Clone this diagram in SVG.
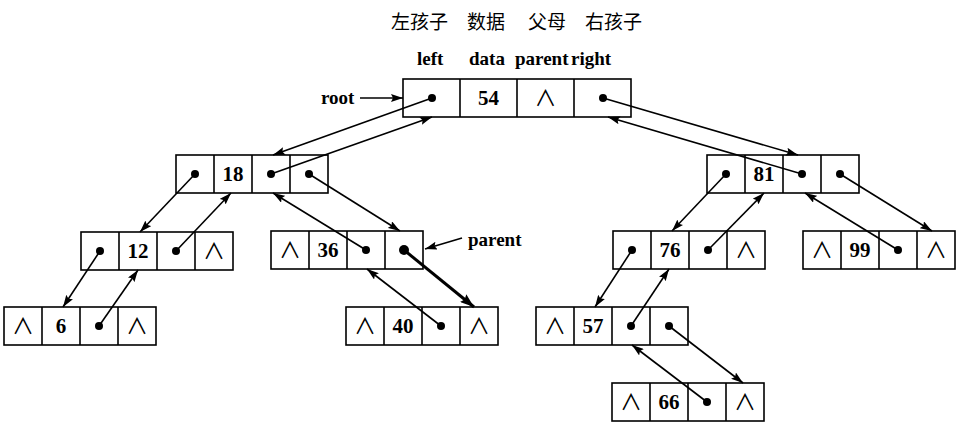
<svg xmlns="http://www.w3.org/2000/svg" width="960" height="427" viewBox="0 0 960 427">
<defs>
<style>
.box{fill:#fff;stroke:#000;stroke-width:1.6}
.div{stroke:#000;stroke-width:1.6}
.num{font-family:"Liberation Serif","Times New Roman",serif;font-weight:bold;font-size:21px;text-anchor:middle;fill:#000}
.nil{font-family:"Noto Sans CJK SC","DejaVu Sans",sans-serif;font-size:22px;text-anchor:middle;fill:#000}
.lbl{font-family:"Liberation Serif","Times New Roman",serif;font-weight:bold;font-size:19px;fill:#000}
.cn{font-family:"Noto Sans CJK SC","Noto Sans CJK JP",sans-serif;font-size:19px;fill:#000}
.dot{fill:#000}
.conn line{stroke:#000;stroke-width:1.6;marker-end:url(#ah)}
.conn line.thick{stroke-width:3;marker-end:url(#ahb)}
</style>
<marker id="ah" viewBox="0 0 12 8" refX="12" refY="4" markerWidth="12" markerHeight="8" markerUnits="userSpaceOnUse" orient="auto"><path d="M0,0 L12,4 L0,8 L2,4 z" fill="#000"/></marker>
<marker id="ahb" viewBox="0 0 14 10" refX="14" refY="5" markerWidth="14" markerHeight="10" markerUnits="userSpaceOnUse" orient="auto"><path d="M0,0 L14,5 L0,10 L2,5 z" fill="#000"/></marker>
</defs>
<rect width="960" height="427" fill="#fff"/>

<g id="header">
<text class="cn" x="391" y="29">左孩子</text>
<text class="cn" x="467" y="29">数据</text>
<text class="cn" x="528" y="29">父母</text>
<text class="cn" x="585" y="29">右孩子</text>
<text class="lbl" x="417" y="65" font-size="18">left</text>
<text class="lbl" x="469" y="65" font-size="18">data</text>
<text class="lbl" x="515" y="65" font-size="18">parent</text>
<text class="lbl" x="571" y="65" font-size="18">right</text>
</g>

<g id="root-label">
<text class="lbl" x="321" y="104">root</text>
</g>
<g id="parent-label">
<text class="lbl" x="468" y="246">parent</text>
</g>

<g id="node-54">
<rect class="box" x="403" y="79" width="228" height="38"/>
<line class="div" x1="460" y1="79" x2="460" y2="117"/>
<line class="div" x1="517" y1="79" x2="517" y2="117"/>
<line class="div" x1="574" y1="79" x2="574" y2="117"/>
<circle class="dot" cx="432" cy="98" r="4"/>
<text class="num" x="488.5" y="105">54</text>
<text class="nil" x="545.5" y="106">∧</text>
<circle class="dot" cx="603" cy="98" r="4"/>
</g>

<g id="node-18">
<rect class="box" x="176" y="155" width="152" height="38"/>
<line class="div" x1="214" y1="155" x2="214" y2="193"/>
<line class="div" x1="252" y1="155" x2="252" y2="193"/>
<line class="div" x1="290" y1="155" x2="290" y2="193"/>
<circle class="dot" cx="195" cy="174" r="4"/>
<text class="num" x="233" y="181">18</text>
<circle class="dot" cx="271" cy="174" r="4"/>
<circle class="dot" cx="309" cy="174" r="4"/>
</g>

<g id="node-81">
<rect class="box" x="707" y="155" width="152" height="38"/>
<line class="div" x1="745" y1="155" x2="745" y2="193"/>
<line class="div" x1="783" y1="155" x2="783" y2="193"/>
<line class="div" x1="821" y1="155" x2="821" y2="193"/>
<circle class="dot" cx="726" cy="174" r="4"/>
<text class="num" x="764" y="181">81</text>
<circle class="dot" cx="802" cy="174" r="4"/>
<circle class="dot" cx="840" cy="174" r="4"/>
</g>

<g id="node-12">
<rect class="box" x="81" y="232" width="152" height="38"/>
<line class="div" x1="119" y1="232" x2="119" y2="270"/>
<line class="div" x1="157" y1="232" x2="157" y2="270"/>
<line class="div" x1="195" y1="232" x2="195" y2="270"/>
<circle class="dot" cx="100" cy="251" r="4"/>
<text class="num" x="138" y="258">12</text>
<circle class="dot" cx="176" cy="251" r="4"/>
<text class="nil" x="214" y="259">∧</text>
</g>

<g id="node-36">
<rect class="box" x="271" y="231" width="152" height="38"/>
<line class="div" x1="309" y1="231" x2="309" y2="269"/>
<line class="div" x1="347" y1="231" x2="347" y2="269"/>
<line class="div" x1="385" y1="231" x2="385" y2="269"/>
<text class="nil" x="290" y="258">∧</text>
<text class="num" x="328" y="257">36</text>
<circle class="dot" cx="366" cy="250" r="4"/>
<circle class="dot" cx="404" cy="250" r="5"/>
</g>

<g id="node-76">
<rect class="box" x="613" y="231" width="152" height="38"/>
<line class="div" x1="651" y1="231" x2="651" y2="269"/>
<line class="div" x1="689" y1="231" x2="689" y2="269"/>
<line class="div" x1="727" y1="231" x2="727" y2="269"/>
<circle class="dot" cx="632" cy="250" r="4"/>
<text class="num" x="670" y="257">76</text>
<circle class="dot" cx="708" cy="250" r="4"/>
<text class="nil" x="746" y="258">∧</text>
</g>

<g id="node-99">
<rect class="box" x="803" y="231" width="152" height="38"/>
<line class="div" x1="841" y1="231" x2="841" y2="269"/>
<line class="div" x1="879" y1="231" x2="879" y2="269"/>
<line class="div" x1="917" y1="231" x2="917" y2="269"/>
<text class="nil" x="822" y="258">∧</text>
<text class="num" x="860" y="257">99</text>
<circle class="dot" cx="898" cy="250" r="4"/>
<text class="nil" x="936" y="258">∧</text>
</g>

<g id="node-6">
<rect class="box" x="4" y="307" width="152" height="38"/>
<line class="div" x1="42" y1="307" x2="42" y2="345"/>
<line class="div" x1="80" y1="307" x2="80" y2="345"/>
<line class="div" x1="118" y1="307" x2="118" y2="345"/>
<text class="nil" x="23" y="334">∧</text>
<text class="num" x="61" y="333">6</text>
<circle class="dot" cx="99" cy="326" r="4"/>
<text class="nil" x="137" y="334">∧</text>
</g>

<g id="node-40">
<rect class="box" x="346" y="307" width="152" height="38"/>
<line class="div" x1="384" y1="307" x2="384" y2="345"/>
<line class="div" x1="422" y1="307" x2="422" y2="345"/>
<line class="div" x1="460" y1="307" x2="460" y2="345"/>
<text class="nil" x="365" y="334">∧</text>
<text class="num" x="403" y="333">40</text>
<circle class="dot" cx="441" cy="326" r="4"/>
<text class="nil" x="479" y="334">∧</text>
</g>

<g id="node-57">
<rect class="box" x="536" y="307" width="152" height="38"/>
<line class="div" x1="574" y1="307" x2="574" y2="345"/>
<line class="div" x1="612" y1="307" x2="612" y2="345"/>
<line class="div" x1="650" y1="307" x2="650" y2="345"/>
<text class="nil" x="555" y="334">∧</text>
<text class="num" x="593" y="333">57</text>
<circle class="dot" cx="631" cy="326" r="4"/>
<circle class="dot" cx="669" cy="326" r="4"/>
</g>

<g id="node-66">
<rect class="box" x="612" y="383" width="152" height="38"/>
<line class="div" x1="650" y1="383" x2="650" y2="421"/>
<line class="div" x1="688" y1="383" x2="688" y2="421"/>
<line class="div" x1="726" y1="383" x2="726" y2="421"/>
<text class="nil" x="631" y="410">∧</text>
<text class="num" x="669" y="409">66</text>
<circle class="dot" cx="707" cy="402" r="4"/>
<text class="nil" x="745" y="410">∧</text>
</g>

<g id="connectors" class="conn">
<line x1="360" y1="98" x2="403" y2="98"/>
<line x1="462" y1="238" x2="425" y2="249"/>
<line x1="432" y1="98" x2="273" y2="155"/>
<line x1="271" y1="174" x2="432" y2="117"/>
<line x1="603" y1="98" x2="798" y2="155"/>
<line x1="802" y1="174" x2="608" y2="117"/>
<line x1="195" y1="174" x2="140" y2="232"/>
<line x1="176" y1="251" x2="231" y2="193"/>
<line x1="309" y1="174" x2="400" y2="231"/>
<line x1="366" y1="250" x2="273" y2="193"/>
<line class="thick" x1="404" y1="250" x2="474" y2="307"/>
<line x1="441" y1="326" x2="367" y2="269"/>
<line x1="100" y1="251" x2="63" y2="307"/>
<line x1="99" y1="326" x2="138" y2="270"/>
<line x1="726" y1="174" x2="672" y2="231"/>
<line x1="708" y1="250" x2="764" y2="193"/>
<line x1="840" y1="174" x2="932" y2="231"/>
<line x1="898" y1="250" x2="805" y2="193"/>
<line x1="632" y1="250" x2="595" y2="307"/>
<line x1="631" y1="326" x2="669" y2="269"/>
<line x1="669" y1="326" x2="743" y2="383"/>
<line x1="707" y1="402" x2="632" y2="345"/>
</g>
</svg>
